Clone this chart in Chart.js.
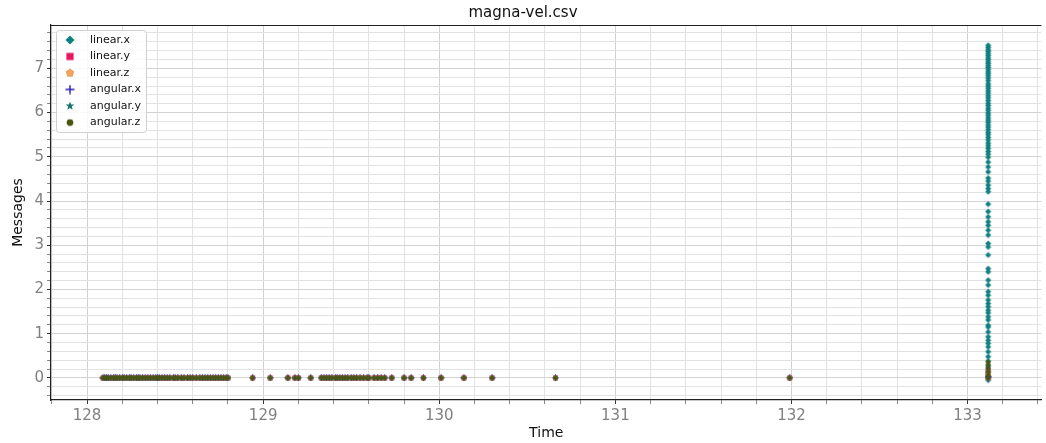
<!DOCTYPE html>
<html>
<head>
<meta charset="utf-8">
<title>magna-vel.csv</title>
<script src="https://cdn.jsdelivr.net/npm/chart.js@4.4.1/dist/chart.umd.min.js"></script>
<style>
  body { margin: 0; background: #fff; }
  #chart { display: block; }
</style>
</head>
<body>
<canvas id="chart" width="1046" height="443"></canvas>
<script>
// Series names (legend order)
const seriesNames = ["linear.x", "linear.y", "linear.z", "angular.x", "angular.y", "angular.z"];

// Sample times where every series sits on zero
const lowTimes = [
  128.09, 128.10, 128.11, 128.12, 128.135, 128.15, 128.16, 128.17, 128.185, 128.20,
  128.21, 128.225, 128.24, 128.25, 128.265, 128.28, 128.29, 128.30, 128.315, 128.33,
  128.345, 128.36, 128.375, 128.39, 128.40, 128.41, 128.425, 128.44, 128.455, 128.47,
  128.49, 128.50, 128.515, 128.535, 128.55, 128.57, 128.585, 128.60, 128.62, 128.64,
  128.655, 128.67, 128.685, 128.70, 128.715, 128.73, 128.745, 128.76, 128.775, 128.79,
  128.80, 128.94, 129.04, 129.14, 129.18, 129.20, 129.27, 129.33, 129.345, 129.36,
  129.375, 129.39, 129.41, 129.42, 129.435, 129.45, 129.465, 129.48, 129.50, 129.515,
  129.53, 129.55, 129.57, 129.59, 129.60, 129.63, 129.65, 129.67, 129.69, 129.73,
  129.80, 129.84, 129.91, 130.01, 130.14, 130.30, 130.66, 131.99
];
const lowValues = [
  0, 0, 0, 0, 0, 0, 0, 0, 0, 0,
  0, 0, 0, 0, 0, 0, 0, 0, 0, 0,
  0, 0, 0, 0, 0, 0, 0, 0, 0, 0,
  0, 0, 0, 0, 0, 0, 0, 0, 0, 0,
  0, 0, 0, 0, 0, 0, 0, 0, 0, 0,
  0, 0, 0, 0, 0, 0, 0, 0, 0, 0,
  0, 0, 0, 0, 0, 0, 0, 0, 0, 0,
  0, 0, 0, 0, 0, 0, 0, 0, 0, 0,
  0, 0, 0, 0, 0, 0, 0, 0
];

// Burst of samples at one instant near the end
const burstTime = 133.117;
const linearXBurst = [
  7.52, 7.47, 7.42, 7.38, 7.33, 7.29, 7.24, 7.20, 7.15, 7.11,
  7.06, 7.02, 6.97, 6.92, 6.88, 6.83, 6.78, 6.72, 6.65, 6.60,
  6.55, 6.49, 6.44, 6.38, 6.33, 6.27, 6.21, 6.16, 6.10, 6.05,
  5.99, 5.94, 5.88, 5.83, 5.78, 5.72, 5.67, 5.61, 5.55, 5.50,
  5.44, 5.38, 5.31, 5.25, 5.19, 5.12, 5.06, 4.99, 4.88, 4.77,
  4.66, 4.52, 4.45, 4.36, 4.28, 4.21, 3.93, 3.76, 3.64, 3.53,
  3.45, 3.34, 3.23, 3.04, 2.96, 2.78, 2.47, 2.40, 2.21, 2.10,
  1.95, 1.87, 1.76, 1.68, 1.61, 1.53, 1.47, 1.38, 1.31, 1.19,
  1.15, 1.04, 0.93, 0.85, 0.78, 0.70, 0.59, 0.48, 0.38, 0.27,
  0.15, 0.05, -0.05
];
const linearYBurst = [0, 0.05, 0.12, 0.18];
const linearZBurst = [0, 0.08, 0.15];
const angularXBurst = [0, 0.03];
const angularYBurst = [0, 0.10, 0.20, 0.28];
const angularZBurst = [0, 0.06, 0.14, 0.22, 0.30, 0.36];
const bursts = [linearXBurst, linearYBurst, linearZBurst, angularXBurst, angularYBurst, angularZBurst];

// Axis tick labels
const xTickLabels = [128, 129, 130, 131, 132, 133];
const yTickLabels = [0, 1, 2, 3, 4, 5, 6, 7];

const colors = ["#0f7f7f", "#e6175c", "#f2a15e", "#2b1fb8", "#17786a", "#4a5512"];
const shapes = ["diamond", "square", "pentagon", "plus", "star", "circle"];

// Marker images (Chart.js has no pentagon / filled star)
function makeMarker(shape, color, size) {
  const c = document.createElement("canvas");
  c.width = size; c.height = size;
  const g = c.getContext("2d");
  const m = size / 2, r = size / 2 - 0.5;
  g.fillStyle = color;
  g.strokeStyle = color;
  g.beginPath();
  if (shape === "diamond") {
    g.moveTo(m, m - r); g.lineTo(m + r, m); g.lineTo(m, m + r); g.lineTo(m - r, m);
    g.closePath(); g.fill();
  } else if (shape === "square") {
    const s = r * 0.8;
    g.rect(m - s, m - s, 2 * s, 2 * s); g.fill();
  } else if (shape === "pentagon") {
    for (let i = 0; i < 5; i++) {
      const a = -Math.PI / 2 + i * 2 * Math.PI / 5;
      g.lineTo(m + r * Math.cos(a), m + r * Math.sin(a));
    }
    g.closePath(); g.fill();
  } else if (shape === "plus") {
    g.lineWidth = Math.max(1.2, size / 7);
    g.moveTo(m - r, m); g.lineTo(m + r, m);
    g.moveTo(m, m - r); g.lineTo(m, m + r);
    g.stroke();
  } else if (shape === "star") {
    for (let i = 0; i < 10; i++) {
      const a = -Math.PI / 2 + i * Math.PI / 5;
      const rr = i % 2 === 0 ? r : r * 0.42;
      g.lineTo(m + rr * Math.cos(a), m + rr * Math.sin(a));
    }
    g.closePath(); g.fill();
  } else {
    g.arc(m, m, r * 0.75, 0, Math.PI * 2); g.fill();
  }
  return c;
}

const plotMarkers = shapes.map((s, i) => makeMarker(s, colors[i], 7));
const legendMarkers = shapes.map((s, i) => makeMarker(s, colors[i], 10));

const datasets = seriesNames.map((name, i) => {
  const pts = lowTimes.map((t, k) => ({ x: t, y: lowValues[k] }));
  bursts[i].forEach(v => pts.push({ x: burstTime, y: v }));
  return {
    label: name,
    data: pts,
    pointStyle: plotMarkers[i],
    pointRadius: 3.5,
    pointHoverRadius: 3.5,
    showLine: false,
    order: seriesNames.length - i
  };
});

const isMajor = (v, list) => list.some(t => Math.abs(v - t) < 1e-6);
const majorGrid = "#d2d2d2", minorGrid = "#e2e2e2";

// Legend box inside the plot + top spine
const insideLegend = {
  id: "insideLegend",
  afterDraw(chart) {
    const ctx = chart.ctx, a = chart.chartArea;
    ctx.save();
    ctx.strokeStyle = "#222";
    ctx.lineWidth = 1;
    ctx.beginPath();
    ctx.moveTo(a.left, a.top + 0.5); ctx.lineTo(a.right, a.top + 0.5);
    ctx.stroke();

    const x0 = a.left + 5, y0 = a.top + 5, w = 90, h = 102;
    ctx.fillStyle = "rgba(255,255,255,0.85)";
    ctx.strokeStyle = "#d0d0d0";
    ctx.beginPath();
    ctx.roundRect(x0 + 0.5, y0 + 0.5, w, h, 3);
    ctx.fill(); ctx.stroke();

    ctx.font = "11px 'DejaVu Sans'";
    ctx.fillStyle = "#111";
    ctx.textBaseline = "middle";
    seriesNames.forEach((name, i) => {
      const y = y0 + 10 + i * 16.5;
      const img = legendMarkers[i];
      ctx.drawImage(img, x0 + 14 - img.width / 2, y - img.height / 2);
      ctx.fillText(name, x0 + 34, y);
    });
    ctx.restore();
  }
};

const tickFont = { family: "'DejaVu Sans'", size: 15 };

new Chart(document.getElementById("chart"), {
  type: "scatter",
  data: { datasets },
  options: {
    responsive: false,
    animation: false,
    devicePixelRatio: 1,
    layout: { padding: 0 },
    plugins: {
      legend: { display: false },
      tooltip: { enabled: false },
      title: {
        display: true,
        text: "magna-vel.csv",
        color: "#111",
        font: { family: "'DejaVu Sans'", size: 15, weight: "normal" },
        padding: { top: 4, bottom: 3 }
      }
    },
    scales: {
      x: {
        type: "linear",
        min: 127.795,
        max: 133.42,
        afterFit: s => { s.height = 43; },
        border: { color: "#222", width: 1.2 },
        grid: {
          color: c => isMajor(c.tick.value, xTickLabels) ? majorGrid : minorGrid,
          tickColor: c => isMajor(c.tick.value, xTickLabels) ? "#333" : "#888",
          tickLength: 4
        },
        ticks: {
          stepSize: 0.2,
          includeBounds: false,
          autoSkip: false,
          maxRotation: 0,
          maxTicksLimit: 1000,
          padding: 3,
          color: "#808080",
          font: tickFont,
          callback: v => isMajor(v, xTickLabels) ? String(Math.round(v)) : ""
        },
        title: {
          display: true,
          text: "Time",
          color: "#111",
          font: { family: "'DejaVu Sans'", size: 14 },
          padding: { top: 0, bottom: 1 }
        }
      },
      y: {
        type: "linear",
        min: -0.5,
        max: 7.98,
        afterFit: s => { s.width = 51; },
        border: { color: "#222", width: 1.2 },
        grid: {
          color: c => isMajor(c.tick.value, yTickLabels) ? majorGrid : minorGrid,
          tickColor: c => isMajor(c.tick.value, yTickLabels) ? "#333" : "#888",
          tickLength: 4
        },
        ticks: {
          stepSize: 0.2,
          includeBounds: false,
          autoSkip: false,
          maxTicksLimit: 1000,
          padding: 3,
          color: "#808080",
          font: tickFont,
          callback: v => isMajor(v, yTickLabels) ? String(Math.round(v)) : ""
        },
        title: {
          display: true,
          text: "Messages",
          color: "#111",
          font: { family: "'DejaVu Sans'", size: 14 },
          padding: { top: 10, bottom: 0 }
        }
      }
    }
  },
  plugins: [insideLegend]
});
</script>
</body>
</html>
